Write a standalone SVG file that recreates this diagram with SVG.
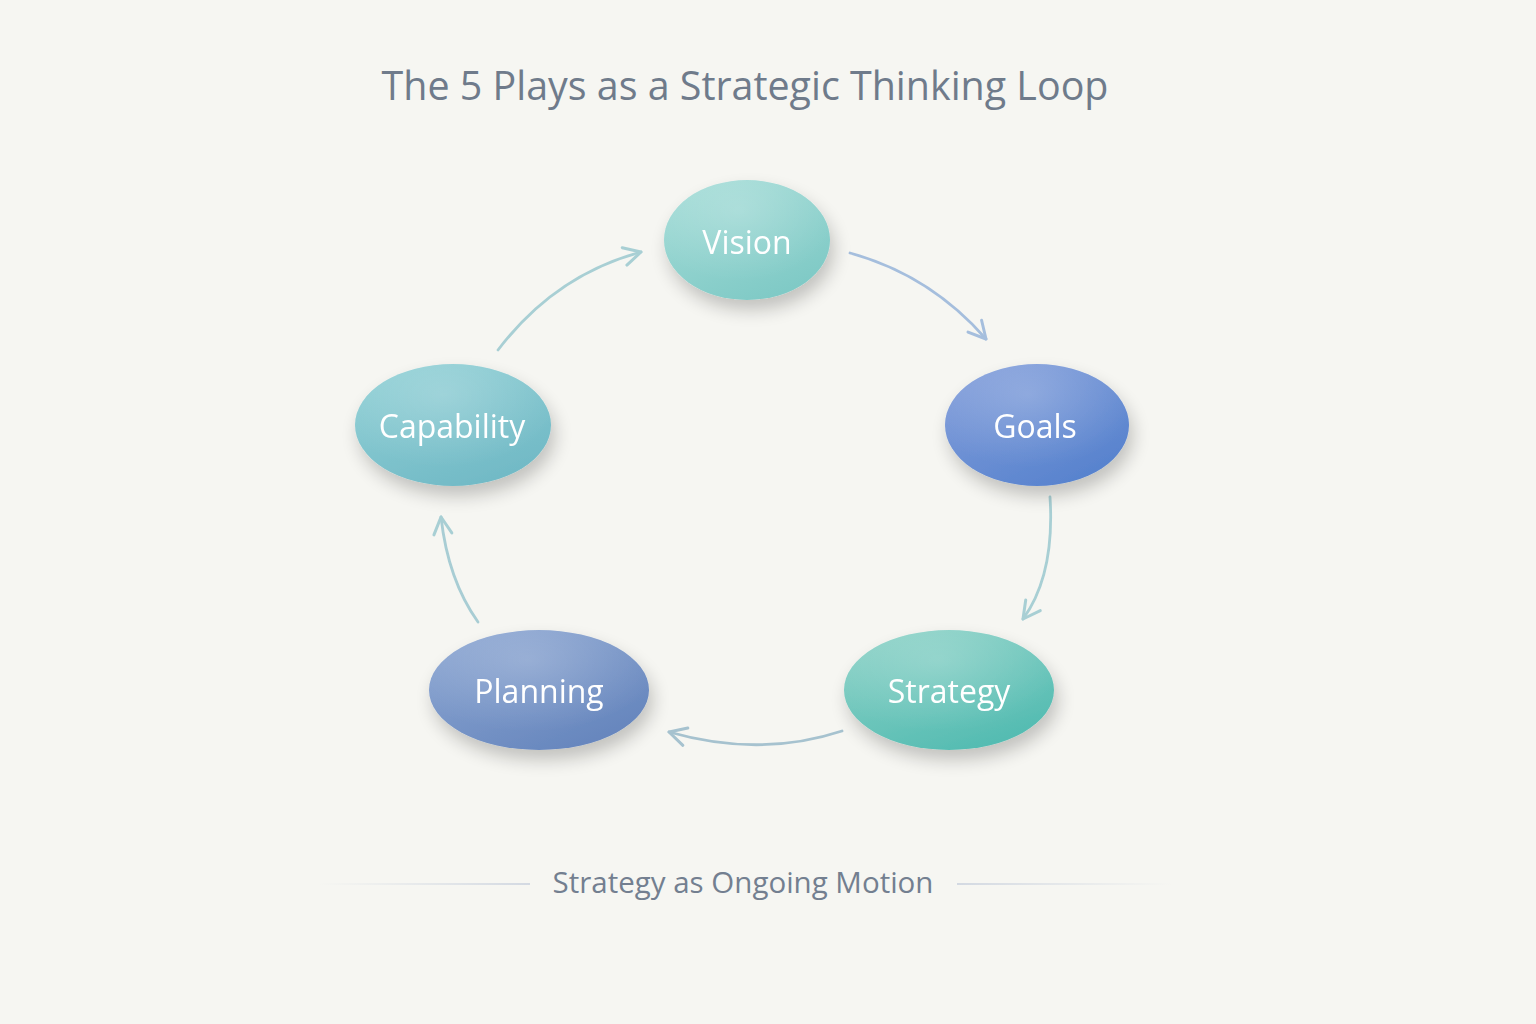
<svg xmlns="http://www.w3.org/2000/svg" width="1536" height="1024" viewBox="0 0 1536 1024">
<defs>
<style>
.title{font-family:"Open Sans","Noto Sans",sans-serif;font-size:39.4px;fill:#6f7b8b;text-anchor:middle}
.label{font-family:"Open Sans","Noto Sans",sans-serif;font-size:32px;fill:#ffffff;text-anchor:middle;dominant-baseline:central}
.foot{font-family:"Open Sans","Noto Sans",sans-serif;font-size:29.5px;fill:#737f90;text-anchor:middle}
.conn{fill:none;stroke-width:2.8;stroke-linecap:round}
</style>
<filter id="sh" x="-40%" y="-40%" width="180%" height="200%">
<feGaussianBlur in="SourceAlpha" stdDeviation="9"/>
<feOffset dx="4" dy="10" result="b"/>
<feComponentTransfer><feFuncA type="linear" slope="0.22"/></feComponentTransfer>
<feMerge><feMergeNode/><feMergeNode in="SourceGraphic"/></feMerge>
</filter>
<linearGradient id="gV" x1="0" y1="0" x2="0.6" y2="1"><stop offset="0" stop-color="#a6ddd8"/><stop offset="1" stop-color="#80cac6"/></linearGradient>
<linearGradient id="gG" x1="0" y1="0" x2="0.8" y2="1"><stop offset="0" stop-color="#849fdb"/><stop offset="1" stop-color="#5581cd"/></linearGradient>
<linearGradient id="gS" x1="0" y1="0" x2="0.6" y2="1"><stop offset="0" stop-color="#8fd3c8"/><stop offset="1" stop-color="#55bcb2"/></linearGradient>
<linearGradient id="gP" x1="0" y1="0" x2="0.8" y2="1"><stop offset="0" stop-color="#8ea8d3"/><stop offset="1" stop-color="#6484bc"/></linearGradient>
<linearGradient id="gC" x1="0" y1="0" x2="0.6" y2="1"><stop offset="0" stop-color="#92d1d6"/><stop offset="1" stop-color="#72bac6"/></linearGradient>
<radialGradient id="hl" cx="0.45" cy="0.25" r="0.6"><stop offset="0" stop-color="#ffffff" stop-opacity="0.2"/><stop offset="1" stop-color="#ffffff" stop-opacity="0"/></radialGradient>
<linearGradient id="lineL" x1="0" y1="0" x2="1" y2="0"><stop offset="0" stop-color="#d8dde4" stop-opacity="0"/><stop offset="1" stop-color="#d3d9e2"/></linearGradient>
<linearGradient id="lineR" x1="0" y1="0" x2="1" y2="0"><stop offset="0" stop-color="#d3d9e2"/><stop offset="1" stop-color="#d8dde4" stop-opacity="0"/></linearGradient>
<marker id="ahT" viewBox="0 0 24 24" refX="20" refY="12" markerWidth="24" markerHeight="24" markerUnits="userSpaceOnUse" orient="auto"><path d="M3,3 L20,12 L3,21" fill="none" stroke="#a8cfd4" stroke-width="3" stroke-linejoin="round" stroke-linecap="round"/></marker>
<marker id="ahB" viewBox="0 0 24 24" refX="20" refY="12" markerWidth="24" markerHeight="24" markerUnits="userSpaceOnUse" orient="auto"><path d="M3,3 L20,12 L3,21" fill="none" stroke="#a5bedd" stroke-width="3" stroke-linejoin="round" stroke-linecap="round"/></marker>
<marker id="ahG" viewBox="0 0 24 24" refX="20" refY="12" markerWidth="24" markerHeight="24" markerUnits="userSpaceOnUse" orient="auto"><path d="M3,3 L20,12 L3,21" fill="none" stroke="#a6c2cf" stroke-width="3" stroke-linejoin="round" stroke-linecap="round"/></marker>
</defs>
<rect width="1536" height="1024" fill="#f6f6f2"/>
<text class="title" x="745" y="100">The 5 Plays as a Strategic Thinking Loop</text>

<g id="connectors">
<path class="conn" stroke="#a8cfd4" d="M498,350 Q555,275 641,252" marker-end="url(#ahT)"/>
<path class="conn" stroke="#a5bedd" d="M850,253 Q930,275 986,339" marker-end="url(#ahB)"/>
<path class="conn" stroke="#a8cfd4" d="M1050,497 Q1055,575 1023,619" marker-end="url(#ahT)"/>
<path class="conn" stroke="#a6c2cf" d="M842,731 Q760,758 669,732" marker-end="url(#ahG)"/>
<path class="conn" stroke="#a8cdd4" d="M478,622 Q448,580 441,517" marker-end="url(#ahT)"/>
</g>

<g id="vision" filter="url(#sh)">
<ellipse cx="747" cy="240" rx="83" ry="60" fill="url(#gV)"/>
<ellipse cx="747" cy="240" rx="83" ry="60" fill="url(#hl)"/>
<text class="label" x="747" y="241">Vision</text>
</g>
<g id="goals" filter="url(#sh)">
<ellipse cx="1037" cy="425" rx="92" ry="61" fill="url(#gG)"/>
<ellipse cx="1037" cy="425" rx="92" ry="61" fill="url(#hl)"/>
<text class="label" x="1035" y="425">Goals</text>
</g>
<g id="strategy" filter="url(#sh)">
<ellipse cx="949" cy="690" rx="105" ry="60" fill="url(#gS)"/>
<ellipse cx="949" cy="690" rx="105" ry="60" fill="url(#hl)"/>
<text class="label" x="949" y="690">Strategy</text>
</g>
<g id="planning" filter="url(#sh)">
<ellipse cx="539" cy="690" rx="110" ry="60" fill="url(#gP)"/>
<ellipse cx="539" cy="690" rx="110" ry="60" fill="url(#hl)"/>
<text class="label" x="539" y="690">Planning</text>
</g>
<g id="capability" filter="url(#sh)">
<ellipse cx="453" cy="425" rx="98" ry="61" fill="url(#gC)"/>
<ellipse cx="453" cy="425" rx="98" ry="61" fill="url(#hl)"/>
<text class="label" x="452" y="425">Capability</text>
</g>

<g id="footer">
<rect x="318" y="883" width="212" height="2" fill="url(#lineL)"/>
<rect x="957" y="883" width="215" height="2" fill="url(#lineR)"/>
<text class="foot" x="743" y="893">Strategy as Ongoing Motion</text>
</g>
</svg>
